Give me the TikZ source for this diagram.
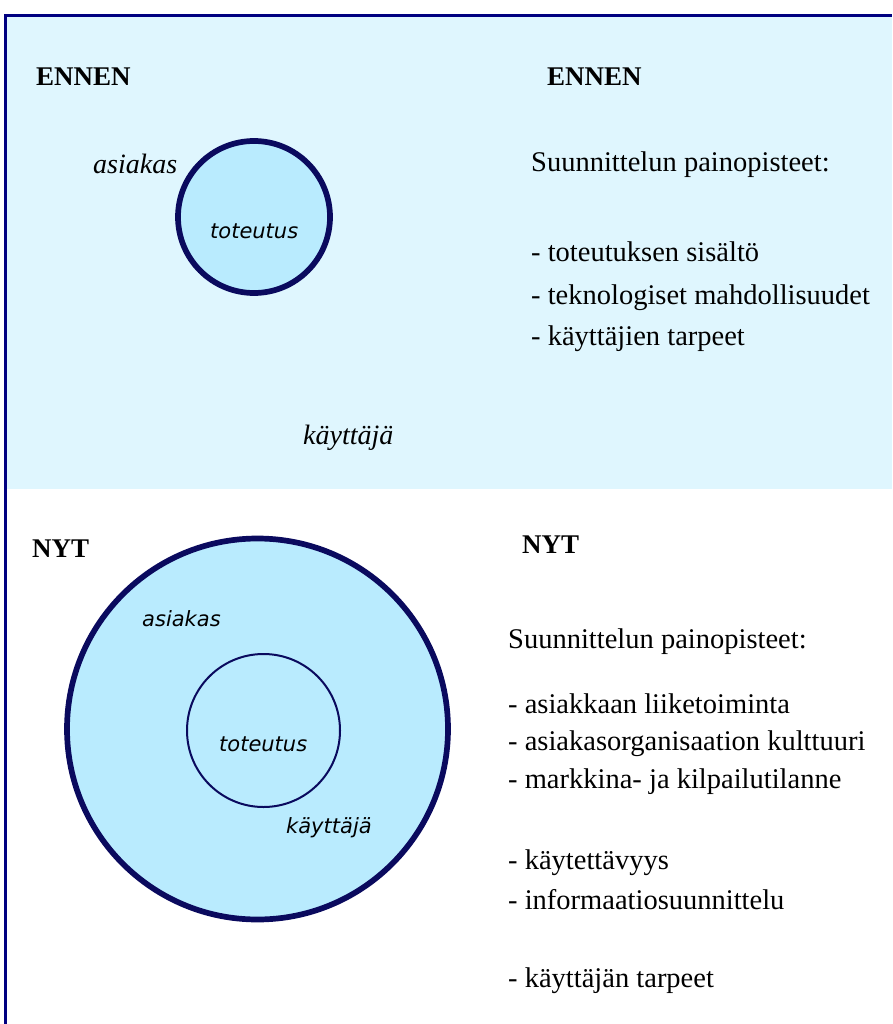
\documentclass[tikz,border=0pt]{standalone}
\usepackage{fontspec}
\setmainfont{Liberation Serif}
\newfontfamily\labelsans{DejaVu Sans}
\usetikzlibrary{positioning}
\definecolor{framenavy}{HTML}{000080}
\definecolor{ringnavy}{HTML}{0A0A5E}
\definecolor{panelblue}{HTML}{DFF6FE}
\definecolor{ringfill}{HTML}{B9EBFE}
\tikzstyle{headline}=[anchor=base west,inner sep=0pt,font=\fontsize{27}{32}\selectfont\bfseries]
\tikzstyle{bodyline}=[anchor=base west,inner sep=0pt,font=\fontsize{28.5}{34}\selectfont]
\tikzstyle{rolename}=[anchor=base west,inner sep=0pt,font=\fontsize{28}{34}\selectfont\itshape]
\tikzstyle{ringlabel}=[anchor=base west,inner sep=0pt,font=\fontsize{21}{26}\selectfont\labelsans\itshape]
\tikzstyle{ring}=[circle,draw=ringnavy,fill=ringfill,inner sep=0pt,outer sep=0pt]

\begin{document}
\begin{tikzpicture}[x=1pt,y=-1pt]
    \useasboundingbox (0,0) rectangle (892,1024);
    % upper panel and frame
    \fill[panelblue] (7,17) rectangle (892,489);
    \draw[framenavy,line width=3pt] (5.5,1024) -- (5.5,15.5) -- (892,15.5);

    % ENNEN
    \node[headline] (ennenL) at (36,86) {ENNEN};
    \node[headline] (ennenR) at (547,86) {ENNEN};
    \node[ring,line width=5.7pt,minimum size=152pt] (coreOld) at (254,217) {};
    \node[ringlabel] (toteutusOld) at (210,238) {toteutus};
    \node[rolename] (asiakasOld) at (93,174) {asiakas};
    \node[rolename] (kayttajaOld) at (303,444) {käyttäjä};
    \node[bodyline] (focusOld) at (531,172) {Suunnittelun painopisteet:};
    \node[bodyline] (old1) at (531,261) {- toteutuksen sisältö};
    \node[bodyline] (old2) at (531,304) {- teknologiset mahdollisuudet};
    \node[bodyline] (old3) at (531,345) {- käyttäjien tarpeet};

    % NYT
    \node[headline] (nytL) at (32,557) {NYT};
    \node[headline] (nytR) at (522,553) {NYT};
    \node[ring,line width=5.7pt,minimum size=381pt] (outerNew) at (257.5,729) {};
    \node[ring,line width=2pt,minimum size=153pt] (coreNew) at (263.5,730.5) {};
    \node[ringlabel] (asiakasNew) at (142,626) {asiakas};
    \node[ringlabel] (toteutusNew) at (219,751) {toteutus};
    \node[ringlabel] (kayttajaNew) at (286,833) {käyttäjä};
    \node[bodyline] (focusNew) at (508,648) {Suunnittelun painopisteet:};
    \node[bodyline] (new1) at (508,713) {- asiakkaan liiketoiminta};
    \node[bodyline] (new2) at (508,750) {- asiakasorganisaation kulttuuri};
    \node[bodyline] (new3) at (508,788) {- markkina- ja kilpailutilanne};
    \node[bodyline] (new4) at (508,869) {- käytettävyys};
    \node[bodyline] (new5) at (508,909) {- informaatiosuunnittelu};
    \node[bodyline] (new6) at (508,987) {- käyttäjän tarpeet};
\end{tikzpicture}
\end{document}
